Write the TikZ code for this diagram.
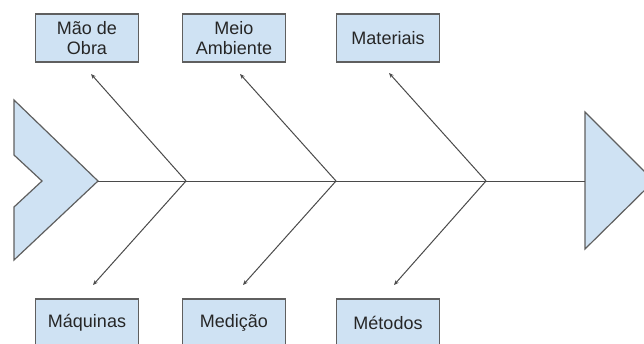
\documentclass[tikz,border=0pt]{standalone}
\usepackage{fontspec}
\setmainfont{Liberation Sans}
\usetikzlibrary{arrows.meta}
\definecolor{boxfill}{HTML}{CFE2F3}
\definecolor{boxedge}{HTML}{5F5F5F}
\definecolor{bonecol}{HTML}{4A4A4A}
\begin{document}
\begin{tikzpicture}[x=1pt,y=-1pt,
  cause/.style={draw=boxedge,line width=1.2pt,fill=boxfill,minimum width=103pt,
    minimum height=48pt,inner sep=0pt,align=center,
    font=\fontsize{18}{20}\selectfont,text=black!85},
  fishpart/.style={draw=boxedge,line width=1.2pt,fill=boxfill,line join=miter},
  bone/.style={draw=bonecol,line width=1pt},
  branch/.style={bone,-{Stealth[length=5pt,width=4pt]}}]
\useasboundingbox (0,0) rectangle (644,343);
\clip (0,0) rectangle (644,343);

% tail and head of the fish
\draw[fishpart] (14,100) -- (98,181) -- (14,260) -- (14,207) -- (42,181) -- (14,155) -- cycle;
\draw[fishpart] (585,112) -- (654,181) -- (585,249) -- cycle;
\coordinate (tail) at (98,181);
\coordinate (head) at (585,181);

% spine junctions
\coordinate (j1) at (186,181);
\coordinate (j2) at (336,181);
\coordinate (j3) at (486,181);

% cause boxes
\node[cause] (mao) at (87,38) {Mão de\\Obra};
\node[cause] (meio) at (234,38) {Meio\\Ambiente};
\node[cause] (mat) at (388,38) {Materiais};
\node[cause] (maq) at (87,323) {Máquinas};
\node[cause] (med) at (234,323) {Medição};
\node[cause] (met) at (388,323) {Métodos};

% arrow tips below/above the boxes
\coordinate (t1) at (91,74);
\coordinate (t2) at (240,74);
\coordinate (t3) at (389,73);
\coordinate (b1) at (93,285);
\coordinate (b2) at (243,285);
\coordinate (b3) at (394,285);

% spine
\draw[bone] (tail) -- (head);

% branches
\draw[branch] (j1) -- (t1);
\draw[branch] (j2) -- (t2);
\draw[branch] (j3) -- (t3);
\draw[branch] (j1) -- (b1);
\draw[branch] (j2) -- (b2);
\draw[branch] (j3) -- (b3);
\end{tikzpicture}
\end{document}
